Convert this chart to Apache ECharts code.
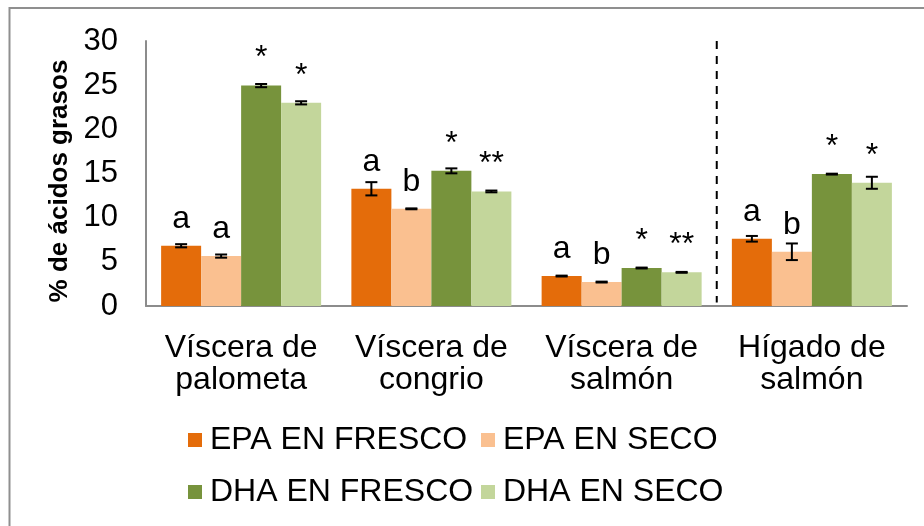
<!DOCTYPE html>
<html>
<head>
<meta charset="utf-8">
<script src="https://cdn.jsdelivr.net/npm/echarts@6/dist/echarts.min.js"></script>
<style>
  html, body { margin: 0; padding: 0; background: #fff; }
  #chart { width: 924px; height: 526px; }
</style>
</head>
<body>
<div id="chart"></div>
<script>
// Fatty acid content (% of total fatty acids) per sample and treatment
const categories = ['Víscera de\npalometa', 'Víscera de\ncongrio', 'Víscera de\nsalmón', 'Hígado de\nsalmón'];
const seriesNames = ['EPA EN FRESCO', 'EPA EN SECO', 'DHA EN FRESCO', 'DHA EN SECO'];

const epaFresco = [6.82, 13.27, 3.39, 7.61];
const epaSeco = [5.65, 11.0, 2.71, 6.14];
const dhaFresco = [24.95, 15.3, 4.30, 14.93];
const dhaSeco = [23.0, 12.97, 3.81, 13.95];

// standard deviations
const errEpaFresco = [0.18, 0.75, 0.05, 0.32];
const errEpaSeco = [0.18, 0.05, 0.05, 0.94];
const errDhaFresco = [0.18, 0.28, 0.05, 0.05];
const errDhaSeco = [0.18, 0.10, 0.05, 0.68];

// significance marks
const sigEpaFresco = ['a', 'a', 'a', 'a'];
const sigEpaSeco = ['a', 'b', 'b', 'b'];
const sigDhaFresco = ['*', '*', '*', '*'];
const sigDhaSeco = ['*', '**', '**', '*'];

const yTicks = { min: 0, max: 30, interval: 5 };

const colors = ['#E46C0A', '#FAC090', '#77933C', '#C3D69B'];
const values = [epaFresco, epaSeco, dhaFresco, dhaSeco];
const errors = [errEpaFresco, errEpaSeco, errDhaFresco, errDhaSeco];
const marks = [sigEpaFresco, sigEpaSeco, sigDhaFresco, sigDhaSeco];

const FONT = 'Liberation Sans, Arial, sans-serif';
const BAR_W = 40;

const barSeries = values.map((vals, i) => ({
  name: seriesNames[i],
  type: 'bar',
  data: vals,
  barWidth: BAR_W,
  barGap: '0%',
  itemStyle: { color: colors[i] },
  label: {
    show: true,
    position: 'top',
    distance: 11,
    formatter: p => marks[i][p.dataIndex],
    fontFamily: FONT,
    fontSize: 32,
    lineHeight: 32,
    color: '#000'
  },
  z: 2
}));

// I-shaped error bars centred on each bar
const errorSeries = values.map((vals, i) => ({
  name: 'err' + i,
  type: 'custom',
  data: vals.map((v, k) => [k, v, errors[i][k]]),
  encode: { x: 0, y: 1 },
  z: 5,
  silent: true,
  renderItem: (params, api) => {
    const c = api.value(0), v = api.value(1), e = api.value(2);
    const x = api.coord([c, v])[0] + (i - 1.5) * BAR_W;
    const yT = api.coord([c, v + e])[1];
    const yB = api.coord([c, v - e])[1];
    const cap = 6;
    const st = { stroke: '#000', lineWidth: 2 };
    return {
      type: 'group',
      children: [
        { type: 'line', shape: { x1: x, y1: yT, x2: x, y2: yB }, style: st },
        { type: 'line', shape: { x1: x - cap, y1: yT, x2: x + cap, y2: yT }, style: st },
        { type: 'line', shape: { x1: x - cap, y1: yB, x2: x + cap, y2: yB }, style: st }
      ]
    };
  }
}));

// dashed separator before the liver sample
const separatorSeries = {
  name: 'separador',
  type: 'custom',
  data: [[3, yTicks.max]],
  z: 4,
  silent: true,
  renderItem: (params, api) => {
    const c = api.value(0);
    const band = api.size([1, 0])[0];
    const x = api.coord([c, 0])[0] - band / 2;
    const yT = api.coord([c, yTicks.max])[1];
    const yB = api.coord([c, 0.4])[1];
    return {
      type: 'line',
      shape: { x1: x, y1: yT, x2: x, y2: yB },
      style: { stroke: '#000', lineWidth: 2, lineDash: [8, 7] }
    };
  }
};

const legendBase = {
  left: 188,
  padding: 0,
  itemWidth: 14,
  itemHeight: 14,
  itemGap: 3,
  icon: 'rect',
  selectedMode: false,
  textStyle: { fontFamily: FONT, fontSize: 32, lineHeight: 32, color: '#000', width: 268, padding: [0, 0, 0, 3] }
};

const chart = echarts.init(document.getElementById('chart'));
chart.setOption({
  animation: false,
  backgroundColor: '#fff',
  textStyle: { fontFamily: FONT },
  grid: { left: 146, right: 17, top: 41, bottom: 220, containLabel: false },
  graphic: [{
    type: 'rect',
    silent: true,
    shape: { x: 9.5, y: 8, width: 940, height: 540 },
    style: { fill: 'none', stroke: '#8f8f8f', lineWidth: 2 }
  }],
  legend: [
    Object.assign({}, legendBase, { top: 424, data: seriesNames.slice(0, 2) }),
    Object.assign({}, legendBase, { top: 476, data: seriesNames.slice(2, 4) })
  ],
  xAxis: {
    type: 'category',
    data: categories,
    axisLine: { show: true, lineStyle: { color: '#8c8c8c', width: 2 } },
    axisTick: { show: false },
    axisLabel: { interval: 0, color: '#000', fontFamily: FONT, fontSize: 32, lineHeight: 32, margin: 26 }
  },
  yAxis: {
    type: 'value',
    min: yTicks.min,
    max: yTicks.max,
    interval: yTicks.interval,
    name: '% de ácidos grasos',
    nameLocation: 'middle',
    nameGap: 71,
    nameTextStyle: { fontFamily: FONT, fontSize: 26, fontWeight: 'bold', color: '#000', padding: [0, 15, 0, 0] },
    axisLine: { show: true, lineStyle: { color: '#8c8c8c', width: 2 } },
    axisTick: { show: false },
    splitLine: { show: false },
    axisLabel: { color: '#000', fontFamily: FONT, fontSize: 31, margin: 28 }
  },
  series: [...barSeries, ...errorSeries, separatorSeries]
});
</script>
</body>
</html>
